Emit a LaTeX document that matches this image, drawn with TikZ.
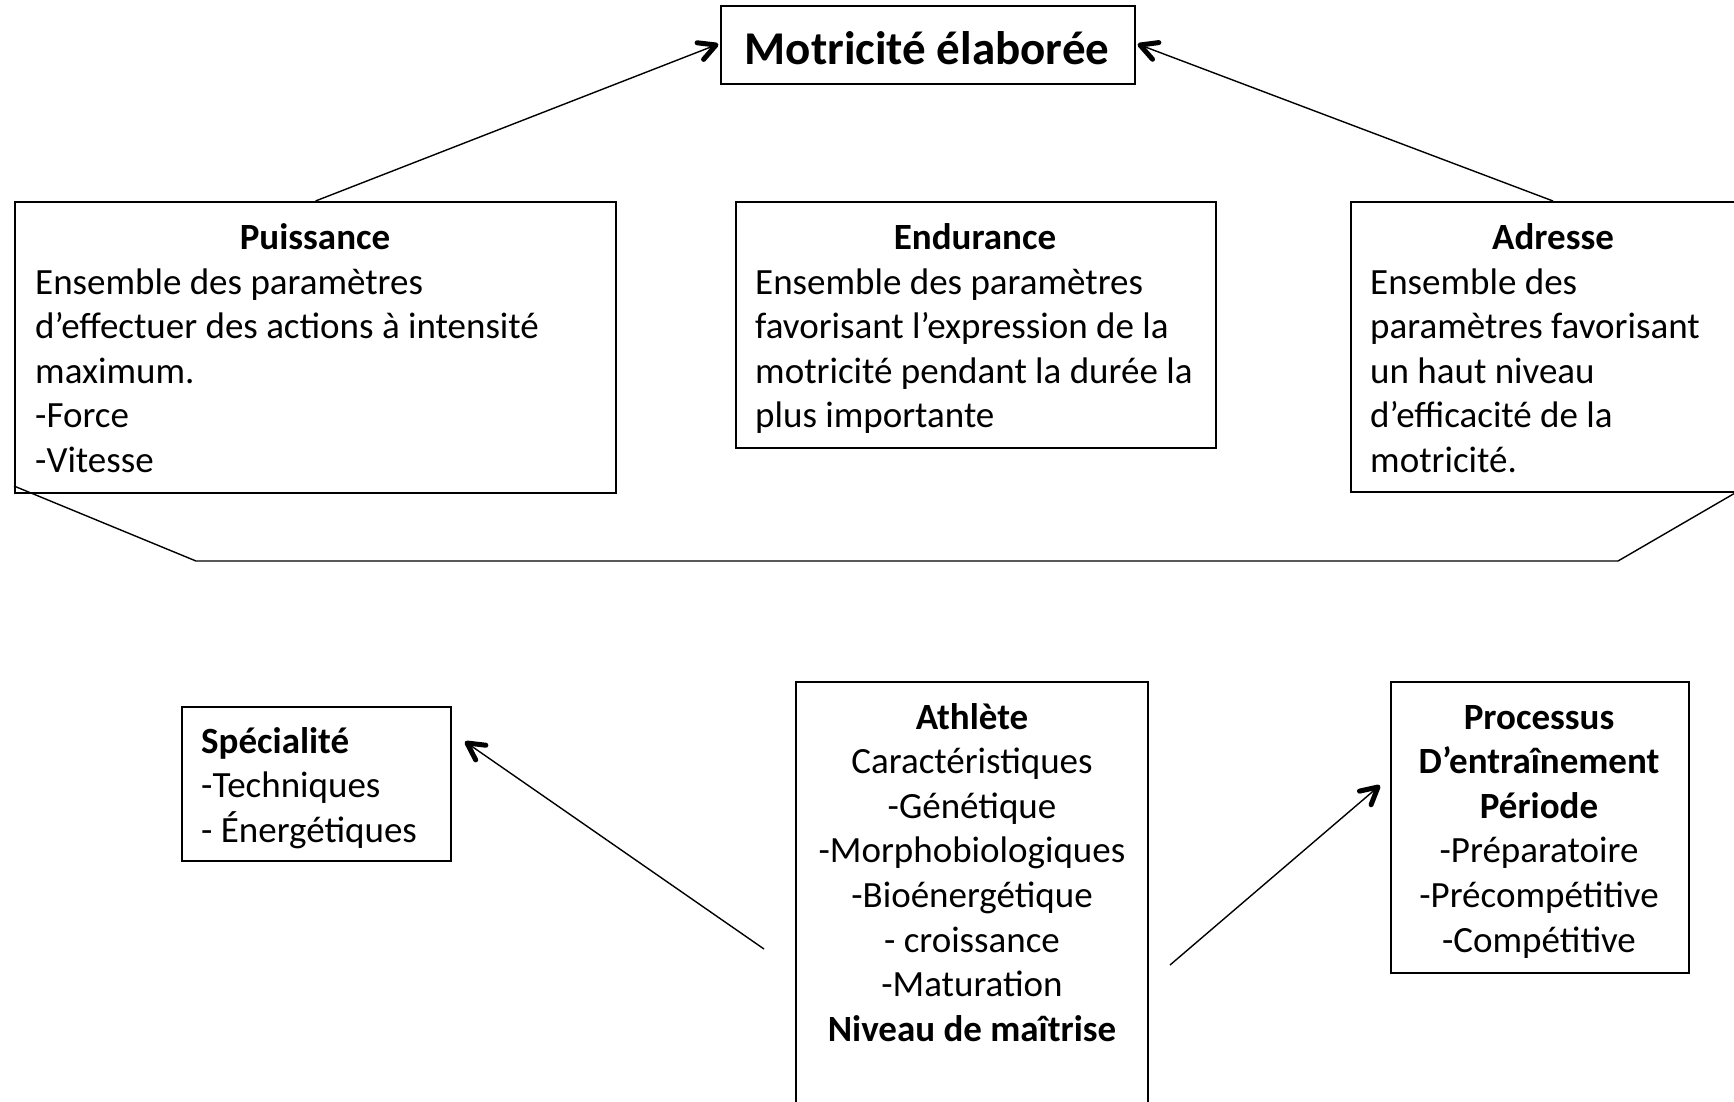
\documentclass[tikz,border=0pt]{standalone}
\usepackage{fontspec}
\setmainfont{Carlito}
\usetikzlibrary{calc}
\tikzset{
  box/.style={draw, line width=2pt, inner sep=0pt, anchor=north west},
  conn/.style={line width=1.4pt},
  tipstroke/.style={line width=5pt, line cap=round, line join=round},
  txt/.style={inner sep=0pt, font=\fontsize{37}{44.6}\selectfont},
  ttl/.style={inner sep=0pt, anchor=base, font=\fontsize{37}{44.6}\selectfont\bfseries},
}
\newcommand\barbarrow[2]{%
  \draw[conn] (#1) -- (#2);
  \draw[tipstroke] ($(#2)!19pt!28:(#1)$) -- (#2) -- ($(#2)!19pt!-28:(#1)$);}
\begin{document}
\begin{tikzpicture}[x=1pt,y=-1pt]
\useasboundingbox (0,0) rectangle (1734,1101);
\clip (0,0) rectangle (1734,1101);
\fill[white] (0,0) rectangle (1734,1101);

% boxes
\node[box, minimum width=414pt, minimum height=78pt] (mot) at (720,5) {};
\node[box, minimum width=601pt, minimum height=291pt] (puis) at (14,201) {};
\node[box, minimum width=480pt, minimum height=246pt] (endu) at (735,201) {};
\node[box, minimum width=404pt, minimum height=290pt] (adr) at (1350,201) {};
\node[box, minimum width=269pt, minimum height=154pt] (spec) at (181,706) {};
\node[box, minimum width=352pt, minimum height=440pt] (ath) at (795,681) {};
\node[box, minimum width=298pt, minimum height=291pt] (proc) at (1390,681) {};

% texts
\node[inner sep=0pt, anchor=base, font=\fontsize{47}{56}\selectfont\bfseries] (motT) at (927,64) {Motricité élaborée};

\node[ttl] (puisT) at (315,249) {Puissance};
\node[txt, anchor=base west] (puisB) at (35,294) {\begin{tabular}[t]{@{}l@{}}Ensemble des paramètres\\ d’effectuer des actions à intensité\\ maximum.\\ -Force\\ -Vitesse\end{tabular}};

\node[ttl] (enduT) at (975,249) {Endurance};
\node[txt, anchor=base west] (enduB) at (755,294) {\begin{tabular}[t]{@{}l@{}}Ensemble des paramètres\\ favorisant l’expression de la\\ motricité pendant la durée la\\ plus importante\end{tabular}};

\node[ttl] (adrT) at (1553,249) {Adresse};
\node[txt, anchor=base west] (adrB) at (1370,294) {\begin{tabular}[t]{@{}l@{}}Ensemble des\\ paramètres favorisant\\ un haut niveau\\ d’efficacité de la\\ motricité.\end{tabular}};

\node[txt, anchor=base west] (specT) at (201,753) {\begin{tabular}[t]{@{}l@{}}\textbf{Spécialité}\\ -Techniques\\ - Énergétiques\end{tabular}};

\node[txt, anchor=base] (athT) at (972,729) {\begin{tabular}[t]{@{}c@{}}\textbf{Athlète}\\ Caractéristiques\\ -Génétique\\ -Morphobiologiques\\ -Bioénergétique\\ - croissance\\ -Maturation\\ \textbf{Niveau de maîtrise}\end{tabular}};

\node[txt, anchor=base] (procT) at (1539,729) {\begin{tabular}[t]{@{}c@{}}\textbf{Processus}\\ \textbf{D’entraînement}\\ \textbf{Période}\\ -Préparatoire\\ -Précompétitive\\ -Compétitive\end{tabular}};

% connectors
\coordinate (mW) at ($(mot.west)+(-4,0)$);
\coordinate (mE) at ($(mot.east)+(4,0)$);
\barbarrow{puis.north}{mW}
\barbarrow{adr.north}{mE}

\coordinate (brA) at (14,486);
\coordinate (brB) at (196,561);
\coordinate (brC) at (1618,561);
\coordinate (brD) at (1754,482);
\draw[conn] (brA) -- (brB) -- (brC) -- (brD);

\coordinate (s1) at (764,949);
\coordinate (s2) at (467,743);
\barbarrow{s1}{s2}
\coordinate (p1) at (1170,965);
\coordinate (p2) at (1378,787);
\barbarrow{p1}{p2}
\end{tikzpicture}
\end{document}
